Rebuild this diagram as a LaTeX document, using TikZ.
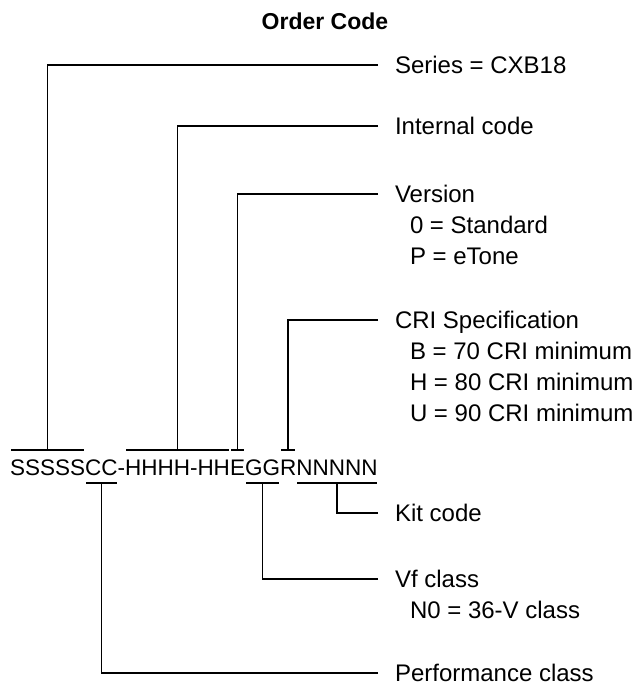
\documentclass[tikz,border=0pt]{standalone}
\usepackage{fontspec}
\setmainfont{Liberation Sans}
\usetikzlibrary{positioning, calc}

\tikzset{
	lbl/.style={anchor=west, inner sep=0pt, outer sep=0pt, text height=17pt, text depth=0pt, font=\fontsize{24}{28}\selectfont},
	code/.style={anchor=base west, inner sep=0pt, outer sep=0pt, text height=16pt, text depth=0pt, font=\fontsize{22.5}{27}\selectfont},
	nx/.style={code, right=0pt of #1.base east, anchor=base west}
}

\begin{document}
\begin{tikzpicture}[x=1pt, y=1pt, line width=1.4pt]
	\useasboundingbox (0,0) rectangle (641,687);
	
	\node[font=\bfseries\fontsize{23}{27}\selectfont] (title) at (325,666) {Order Code};
	
	% the code itself, in groups
	\node[code] (s) at (10,211) {SSSSS};
	\node[nx=s] (c) {CC};
	\node[nx=c] (d) {-};
	\node[nx=d] (h) {HHHH-HH};
	\node[nx=h] (e) {E};
	\node[nx=e] (g) {GG};
	\node[nx=g] (r) {R};
	\node[nx=r] (n) {NNNNN};
	
	% labels
	\node[lbl] (ser) at (395,622) {Series = CXB18};
	\node[lbl] (int) at (395,561) {Internal code};
	\node[lbl] (ver) at (395,493) {Version};
	\node[lbl] (ver0) at (410,462) {0 = Standard};
	\node[lbl] (verp) at (410,431) {P = eTone};
	\node[lbl] (cri) at (395,367) {CRI Specification};
	\node[lbl] (crib) at (410,336) {B = 70 CRI minimum};
	\node[lbl] (crih) at (410,305) {H = 80 CRI minimum};
	\node[lbl] (criu) at (410,274) {U = 90 CRI minimum};
	\node[lbl] (kit) at (395,174) {Kit code};
	\node[lbl] (vf) at (395,108) {Vf class};
	\node[lbl] (vfn) at (410,77) {N0 = 36-V class};
	\node[lbl] (perf) at (395,14) {Performance class};
	
	% brackets
	\foreach \g in {s,h,e,r}
		\draw ([shift={(1pt,10pt)}]\g.north west) -- ([shift={(-1pt,10pt)}]\g.north east);
	\foreach \g in {c,g,n}
		\draw ([shift={(1pt,-7pt)}]\g.south west) -- ([shift={(-1pt,-7pt)}]\g.south east);
	
	% leaders
	\draw ([xshift=-17pt]ser.west) -| ([yshift=10pt]s.north);
	\draw ([xshift=-17pt]int.west) -| ([yshift=10pt]h.north);
	\draw ([xshift=-17pt]ver.west) -| ([yshift=10pt]e.north);
	\draw ([xshift=-17pt]cri.west) -| ([yshift=10pt]r.north);
	\draw ([xshift=-17pt]kit.west) -| ([yshift=-7pt]n.south);
	\draw ([xshift=-17pt]vf.west) -| ([yshift=-7pt]g.south);
	\draw ([xshift=-17pt]perf.west) -| ([yshift=-7pt]c.south);
	
\end{tikzpicture}
\end{document}
